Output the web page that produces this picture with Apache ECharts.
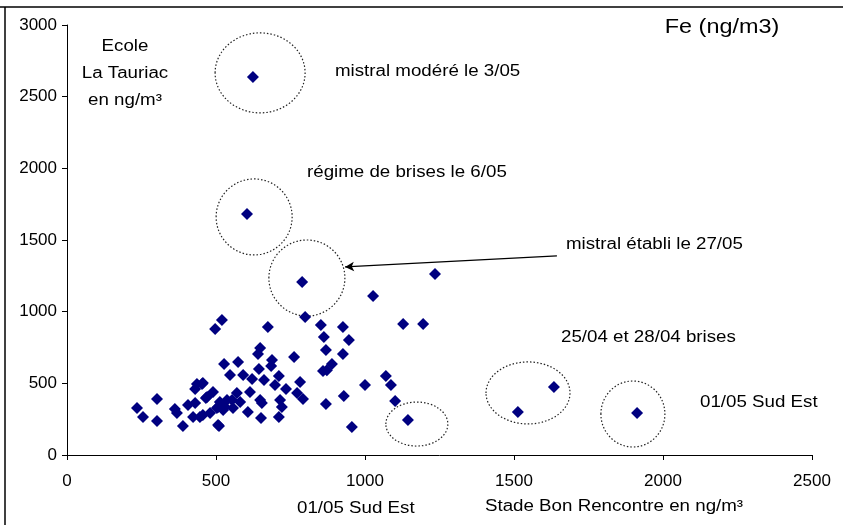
<!DOCTYPE html>
<html>
<head>
<meta charset="utf-8">
<script src="https://cdn.jsdelivr.net/npm/echarts@6/dist/echarts.min.js"></script>
<style>
html, body { margin: 0; padding: 0; background: #fff; }
#chart { width: 843px; height: 525px; }
</style>
</head>
<body>
<div id="chart"></div>
<script>
// Stade Bon Rencontre (x) vs Ecole La Tauriac (y), Fe en ng/m3
var stade = [
  624, 604, 789, 1235, 1027, 799, 1128, 1195, 520, 497,
  674, 852, 926, 862, 946, 869, 926, 889, 859, 872,
  1000, 1070, 1087, 1101, 1144, 956, 929, 869, 762, 782,
  711, 651, 510, 648, 641, 574, 527, 547, 591, 644,
  688, 685, 711, 456, 490, 466, 621, 661, 698, 735,
  772, 792, 715, 721, 648, 654, 614, 570, 581, 607,
  557, 537, 513, 503, 480, 456, 524, 235, 255, 302,
  302, 362, 369, 389, 406, 436, 453, 430, 430, 423,
  446, 470, 507, 507, 530, 554, 1513, 1634, 1913
]
var tauriac = [
  2638, 1682, 1207, 1263, 1110, 963, 914, 914, 942, 879,
  893, 907, 893, 823, 803, 733, 705, 635, 586, 592,
  488, 551, 488, 377, 244, 195, 412, 356, 684, 509,
  265, 258, 202, 747, 705, 649, 635, 558, 558, 600,
  663, 621, 551, 502, 440, 398, 530, 523, 488, 460,
  432, 391, 384, 335, 384, 363, 440, 432, 370, 300,
  328, 384, 370, 328, 293, 279, 314, 328, 265, 391,
  237, 321, 293, 202, 349, 495, 495, 460, 363, 265,
  265, 405, 209, 335, 335, 384, 300, 475, 293
]
var xTicks = [0, 500, 1000, 1500, 2000, 2500]
var yTicks = [0, 500, 1000, 1500, 2000, 2500, 3000]

// cercles en pointillés : centre (données) et rayons en px
var circles = [
  { x: 648, y: 2666, rx: 45, ry: 40 },
  { x: 628, y: 1661, rx: 38, ry: 38 },
  { x: 805, y: 1235, rx: 38, ry: 38 },
  { x: 1174, y: 216, rx: 31, ry: 22 },
  { x: 1547, y: 433, rx: 42, ry: 31 },
  { x: 1899, y: 286, rx: 32, ry: 33 }
]

var font = 'Liberation Sans, Arial, sans-serif'
var myChart = echarts.init(document.getElementById('chart'))

var points = stade.map(function (v, i) { return [v, tauriac[i]] })

function txt (x, y, s, size, align, sx) {
  return {
    type: 'text',
    x: x,
    y: y,
    scaleX: sx || 1.17,
    style: {
      text: s,
      fill: '#000',
      font: (size || 16) + 'px ' + font,
      textAlign: align || 'left',
      textVerticalAlign: 'middle'
    }
  }
}

myChart.setOption({
  animation: false,
  grid: { left: 67, right: 31, top: 25, bottom: 70 },
  xAxis: {
    type: 'value',
    min: xTicks[0],
    max: xTicks[xTicks.length - 1],
    interval: 500,
    splitLine: { show: false },
    axisLine: { lineStyle: { color: '#000', width: 1 } },
    axisTick: { show: true, length: 5, lineStyle: { color: '#000' } },
    axisLabel: {
      color: '#000', fontSize: 17, fontFamily: font, margin: 18,
      formatter: function (v) { return String(v) }
    }
  },
  yAxis: {
    type: 'value',
    min: yTicks[0],
    max: yTicks[yTicks.length - 1],
    interval: 500,
    splitLine: { show: false },
    axisLine: { show: true, lineStyle: { color: '#000', width: 1 } },
    axisTick: { show: true, length: 5, lineStyle: { color: '#000' } },
    axisLabel: {
      color: '#000', fontSize: 17, fontFamily: font, margin: 10,
      formatter: function (v) { return String(v) }
    }
  },
  series: [{
    type: 'scatter',
    symbol: 'diamond',
    symbolSize: 12,
    itemStyle: { color: '#000080', opacity: 1 },
    data: points,
    markLine: {
      silent: true,
      symbol: ['none', 'arrow'],
      symbolSize: [7, 9],
      label: { show: false },
      lineStyle: { color: '#000', width: 1.3, type: 'solid' },
      data: [[{ coord: [1644, 1389] }, { coord: [933, 1312] }]]
    }
  }]
})

var graphics = [
  { type: 'line', shape: { x1: 0, y1: 7, x2: 843, y2: 7 }, style: { stroke: '#000', lineWidth: 1.5 } },
  { type: 'line', shape: { x1: 5, y1: 7, x2: 5, y2: 525 }, style: { stroke: '#000', lineWidth: 1.5 } },
  txt(722, 27, 'Fe (ng/m3)', 20, 'center', 1.17),
  txt(125, 47, 'Ecole', 16, 'center'),
  txt(125, 74, 'La Tauriac', 16, 'center'),
  txt(125, 101, 'en ng/m³', 16, 'center'),
  txt(335, 72, 'mistral modéré le 3/05'),
  txt(307, 173, 'régime de brises le 6/05'),
  txt(566, 245, 'mistral établi le 27/05'),
  txt(561, 338, '25/04 et 28/04 brises'),
  txt(700, 403, '01/05 Sud Est'),
  txt(297, 509, '01/05 Sud Est'),
  txt(485, 507, 'Stade Bon Rencontre en ng/m³')
]
circles.forEach(function (c) {
  var p = myChart.convertToPixel({ gridIndex: 0 }, [c.x, c.y])
  graphics.push({
    type: 'ellipse',
    shape: { cx: p[0], cy: p[1], rx: c.rx, ry: c.ry },
    style: { fill: 'none', stroke: '#222', lineWidth: 1.2, lineDash: [1.5, 2] },
    z: 1
  })
})
myChart.setOption({ graphic: graphics })
</script>
</body>
</html>
